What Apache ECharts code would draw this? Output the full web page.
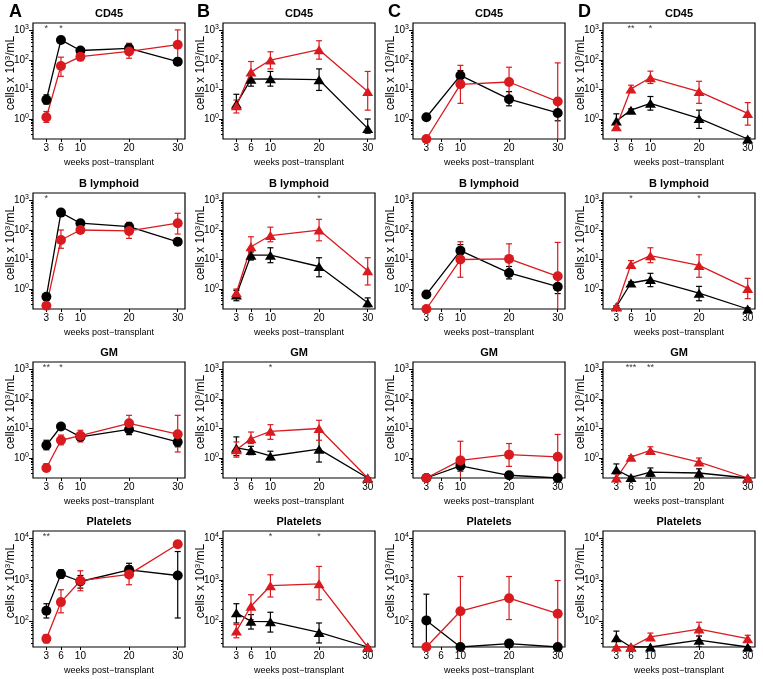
<!DOCTYPE html>
<html><head><meta charset="utf-8">
<script src="https://cdn.jsdelivr.net/npm/echarts@6/dist/echarts.min.js"></script>
<style>html,body{margin:0;padding:0;background:#fff}#c{width:763px;height:679px}</style>
</head><body><div id="c"></div>
<script>
// ---------- categories / ticks ----------
const weeks = [3, 6, 10, 20, 30];
const weeksC = [3, 10, 20, 30];
const xTickLabels = [3, 6, 10, 20, 30];
const panelLetters = ['A', 'B', 'C', 'D'];
const rowTitles = ['CD45', 'B lymphoid', 'GM', 'Platelets'];
const cellRange = [0.21, 1800];
const plateletRange = [24, 15000];
const cellDecades = [1, 10, 100, 1000];
const plateletDecades = [100, 1000, 10000];

// ---------- data: each point [mean, lower, upper] (cells x 10^3/mL) ----------
// Row 1: CD45
const CD45_A_black = [[4.5,3.2,6.6],[480,420,540],[210,185,235],[250,180,350],[88,75,100]];
const CD45_A_red   = [[1.15,0.77,1.8],[63,28,125],[130,95,180],[195,115,370],[330,115,1050]];
const CD45_B_black = [[3.2,2.5,6.9],[22.5,13,30],[23,13,41],[21.5,9.3,50],[0.48,0.33,1.0]];
const CD45_B_red   = [[2.8,1.6,4.4],[39,20,89],[100,50,190],[225,107,450],[8.5,2.0,41]];
const CD45_C_black = [[1.15,1.05,1.25],[30,20,44],[4.7,2.8,8.5],[1.6,0.87,3.4]];
const CD45_C_red   = [[0.21,0.21,0.21],[15,3.4,66],[18,6,57],[3.9,0.1,80]];
const CD45_D_black = [[0.85,0.48,1.5],[2.0,1.8,2.2],[3.4,2.0,5.8],[1.05,0.48,2.0],[0.21,0.19,0.23]];
const CD45_D_red   = [[0.55,0.45,0.7],[10.5,8,14],[25,16,42],[8.5,3.4,19],[1.55,0.62,3.6]];
// Row 2: B lymphoid
const BLY_A_black = [[0.55,0.5,0.6],[390,350,430],[170,150,190],[130,100,180],[40,36,44]];
const BLY_A_red   = [[0.27,0.24,0.3],[46,24,100],[100,77,140],[93,52,180],[170,73,370]];
const BLY_B_black = [[0.63,0.4,0.9],[14,9.6,18],[14,7.8,25],[5.8,2.6,11.5],[0.34,0.25,0.5]];
const BLY_B_red   = [[0.75,0.58,1.0],[27,14,59],[65,40,125],[100,43,230],[4.2,1.37,11.5]];
const BLY_C_black = [[0.65,0.6,0.7],[20,12,32],[3.5,2.2,5.8],[1.2,0.7,2.2]];
const BLY_C_red   = [[0.21,0.21,0.21],[10,2.5,40],[10.5,4.2,34],[2.7,0.1,38]];
const BLY_D_black = [[0.25,0.23,0.27],[1.6,1.45,1.75],[2.1,1.2,3.4],[0.72,0.4,1.23],[0.21,0.19,0.23]];
const BLY_D_red   = [[0.25,0.23,0.27],[6.8,5.2,9.2],[13.5,7.8,25],[6.3,2.5,14.5],[1.05,0.47,2.3]];
// Row 3: GM
const GM_A_black = [[2.7,1.9,4.0],[11.7,10.5,13],[5.2,4.5,6],[9.3,6.2,12],[3.5,2.4,5.2]];
const GM_A_red   = [[0.46,0.35,0.64],[4.0,2.8,6.0],[5.7,3.5,8.7],[15,10,28],[6.4,1.6,28]];
const GM_B_black = [[2.2,1.2,5.2],[1.8,1.3,2.5],[1.17,0.87,1.7],[2.0,0.73,7.6],[0.21,0.21,0.21]];
const GM_B_red   = [[1.9,1.07,3.5],[4.5,3.1,7.6],[8,4.3,13.5],[10,4.0,19],[0.21,0.21,0.21]];
const GM_C_black = [[0.21,0.21,0.21],[0.54,0.36,0.73],[0.26,0.24,0.28],[0.21,0.21,0.21]];
const GM_C_red   = [[0.21,0.21,0.21],[0.83,0.1,3.7],[1.3,0.52,3.1],[1.1,0.1,6.3]];
const GM_D_black = [[0.4,0.29,0.63],[0.22,0.21,0.24],[0.33,0.24,0.46],[0.31,0.21,0.43],[0.21,0.21,0.21]];
const GM_D_red   = [[0.21,0.21,0.21],[1.07,0.95,1.2],[1.8,1.4,2.4],[0.73,0.56,1.0],[0.21,0.21,0.21]];
// Row 4: Platelets
const PLT_A_black = [[180,120,265],[1370,1100,1740],[910,630,1270],[1740,1250,2500],[1270,120,4800]];
const PLT_A_red   = [[38,30,48],[290,160,575],[950,545,1650],[1350,760,2200],[7200,6000,8700]];
const PLT_B_black = [[160,91,265],[100,65,145],[98,55,165],[54,30,91],[24,24,24]];
const PLT_B_red   = [[58,40,83],[230,110,435],[720,385,1320],[800,330,2100],[24,24,24]];
const PLT_C_black = [[105,10,450],[24,24,24],[29,27,31],[24,24,24]];
const PLT_C_red   = [[24,24,24],[175,10,1200],[360,110,1200],[152,10,960]];
const PLT_D_black = [[40,24,58],[24,24,24],[24,24,24],[35,24,44],[24,24,24]];
const PLT_D_red   = [[24,24,24],[24,24,24],[42,35,52],[65,45,95],[38,31,46]];

// ---------- significance marks: [week, text] ----------
const CD45_A_stars = [[3,'*'],[6,'*']];
const CD45_D_stars = [[6,'**'],[10,'*']];
const BLY_A_stars = [[3,'*']];
const BLY_B_stars = [[20,'*']];
const BLY_D_stars = [[6,'*'],[20,'*']];
const GM_A_stars = [[3,'**'],[6,'*']];
const GM_B_stars = [[10,'*']];
const GM_D_stars = [[6,'***'],[10,'**']];
const PLT_A_stars = [[3,'**']];
const PLT_B_stars = [[10,'*'],[20,'*']];

const panels = [
  [CD45_A_black, CD45_A_red, CD45_A_stars], [CD45_B_black, CD45_B_red, []], [CD45_C_black, CD45_C_red, []], [CD45_D_black, CD45_D_red, CD45_D_stars],
  [BLY_A_black, BLY_A_red, BLY_A_stars], [BLY_B_black, BLY_B_red, BLY_B_stars], [BLY_C_black, BLY_C_red, []], [BLY_D_black, BLY_D_red, BLY_D_stars],
  [GM_A_black, GM_A_red, GM_A_stars], [GM_B_black, GM_B_red, GM_B_stars], [GM_C_black, GM_C_red, []], [GM_D_black, GM_D_red, GM_D_stars],
  [PLT_A_black, PLT_A_red, PLT_A_stars], [PLT_B_black, PLT_B_red, PLT_B_stars], [PLT_C_black, PLT_C_red, []], [PLT_D_black, PLT_D_red, []]
];

// ---------- layout / style ----------
const FONT = 'Liberation Sans';
const BLACK = '#000000';
const RED = '#d91a1f';
const gridLefts = [33, 223, 413, 603];
const gridTops = [23, 193, 362, 531];
const gridW = 152, gridH = 116;

function minorTicks(range) {
  const out = [];
  for (let d = Math.floor(Math.log10(range[0])); d <= Math.ceil(Math.log10(range[1])); d++) {
    for (let k = 2; k <= 9; k++) {
      const v = k * Math.pow(10, d);
      if (v >= range[0] && v <= range[1]) out.push(v);
    }
  }
  return out;
}

function errRender(color) {
  return function (params, api) {
    const x = api.value(0), lo = api.value(1), hi = api.value(2);
    const a = api.coord([x, hi]), b = api.coord([x, lo]);
    const hw = 3;
    const st = { stroke: color, lineWidth: 1.2 };
    return { type: 'group', children: [
      { type: 'line', shape: { x1: a[0], y1: a[1], x2: b[0], y2: b[1] }, style: st },
      { type: 'line', shape: { x1: a[0]-hw, y1: a[1], x2: a[0]+hw, y2: a[1] }, style: st },
      { type: 'line', shape: { x1: b[0]-hw, y1: b[1], x2: b[0]+hw, y2: b[1] }, style: st }
    ]};
  };
}

const grids = [], xAxes = [], yAxes = [], series = [], titles = [];
panelLetters.forEach((L, c) => {
  titles.push({ text: L, left: [9, 197, 388, 578][c], top: 3, padding: 0,
    textStyle: { fontSize: 18, fontWeight: 'bold', color: BLACK, fontFamily: FONT } });
});

panels.forEach((p, i) => {
  const row = Math.floor(i / 4), col = i % 4;
  const range = row === 3 ? plateletRange : cellRange;
  const decades = row === 3 ? plateletDecades : cellDecades;
  const xs = col === 2 ? weeksC : weeks;
  const sym = (col === 1 || col === 3) ? 'triangle' : 'circle';
  const symSize = sym === 'circle' ? 10 : [11, 9];

  titles.push({ text: rowTitles[row], left: gridLefts[col] + gridW / 2, top: gridTops[row] - 15,
    textAlign: 'center', padding: 0,
    textStyle: { fontSize: 11, fontWeight: 'bold', color: BLACK, fontFamily: FONT } });

  grids.push({ left: gridLefts[col], top: gridTops[row], width: gridW, height: gridH,
    show: true, borderColor: BLACK, borderWidth: 1.2, backgroundColor: 'transparent' });

  xAxes.push({ gridIndex: i, type: 'value', min: 0.25, max: 31.5,
    axisLine: { show: false, onZero: false },
    axisTick: { show: true, length: 3, customValues: xTickLabels, lineStyle: { color: BLACK } },
    axisLabel: { customValues: xTickLabels, fontSize: 10, color: BLACK, margin: 4, fontFamily: FONT },
    splitLine: { show: false },
    name: 'weeks post\u2212transplant', nameLocation: 'middle', nameGap: 19, nameMoveOverlap: false,
    nameTextStyle: { fontSize: 9, color: BLACK, fontFamily: FONT } });

  yAxes.push({ gridIndex: i, type: 'log', logBase: 10, min: range[0], max: range[1], position: 'left',
    axisLine: { show: false, onZero: false },
    axisTick: { show: true, length: 4, customValues: decades, lineStyle: { color: BLACK } },
    axisLabel: { customValues: decades, fontSize: 10, color: BLACK, margin: 4, fontFamily: FONT, lineHeight: 13,
      formatter: v => '10{sup|' + Math.round(Math.log10(v)) + '}',
      rich: { sup: { fontSize: 7, verticalAlign: 'top', color: BLACK, fontFamily: FONT } } },
    splitLine: { show: false },
    name: 'cells x 10{sup|3}/mL', nameLocation: 'middle', nameGap: 15, nameMoveOverlap: false,
    nameTextStyle: { fontSize: 12, color: BLACK, fontFamily: FONT, lineHeight: 14, padding: [0, 0, 0, 16],
      rich: { sup: { fontSize: 8, verticalAlign: 'top', color: BLACK, fontFamily: FONT } } } });

  yAxes.push({ gridIndex: i, type: 'log', logBase: 10, min: range[0], max: range[1], position: 'left', offset: 0,
    axisLine: { show: false, onZero: false },
    axisTick: { show: true, length: 2, customValues: minorTicks(range), lineStyle: { color: BLACK } },
    axisLabel: { show: false }, splitLine: { show: false } });

  const yIdx = 2 * i;
  [[p[0], BLACK], [p[1], RED]].forEach(([arr, color]) => {
    series.push({ type: 'custom', xAxisIndex: i, yAxisIndex: yIdx, clip: true, silent: true, z: 2,
      data: xs.map((w, k) => [w, arr[k][1], arr[k][2]]), encode: { x: 0, y: [1, 2] },
      renderItem: errRender(color) });
    series.push({ type: 'line', xAxisIndex: i, yAxisIndex: yIdx, z: 3,
      data: xs.map((w, k) => [w, arr[k][0]]),
      symbol: sym, symbolSize: symSize, showSymbol: true,
      lineStyle: { color: color, width: 1.3 }, itemStyle: { color: color },
      emphasis: { disabled: true } });
  });

  if (p[2].length) {
    const yStar = range[1] * Math.pow(range[0] / range[1], 0.05);
    series.push({ type: 'scatter', xAxisIndex: i, yAxisIndex: yIdx, z: 5, symbolSize: 0.1,
      itemStyle: { color: 'rgba(0,0,0,0)' },
      data: p[2].map(s => ({ value: [s[0], yStar], name: s[1] })),
      label: { show: true, position: 'inside', formatter: '{b}', fontSize: 9, color: BLACK, fontFamily: FONT } });
  }
});

const chart = echarts.init(document.getElementById('c'), null, { renderer: 'canvas' });
chart.setOption({
  animation: false,
  backgroundColor: '#ffffff',
  textStyle: { fontFamily: FONT },
  title: titles, grid: grids, xAxis: xAxes, yAxis: yAxes, series: series
});
</script>
</body></html>
